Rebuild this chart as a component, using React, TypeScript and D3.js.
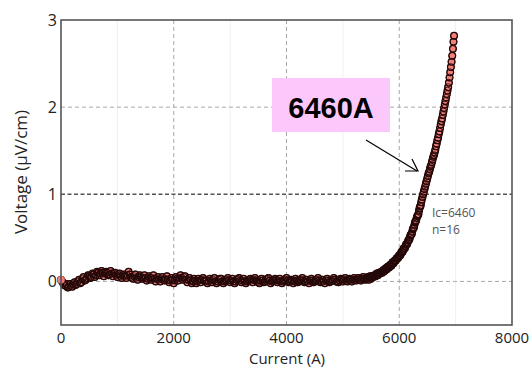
import React from "react";
import * as d3 from "d3";

// Baseline region, first sweep: current (A) and voltage (µV/cm)
const baseCurrent: number[] = [
  0, 40, 80, 120, 160, 200, 240, 280, 320, 360, 400, 440, 480, 520, 560, 600, 640, 680, 720, 760,
  800, 840, 880, 920, 960, 1000, 1040, 1080, 1120, 1160, 1200, 1240, 1280, 1320, 1360, 1400, 1440, 1480, 1520, 1560,
  1600, 1640, 1680, 1720, 1760, 1800, 1840, 1880, 1920, 1960, 2000, 2040, 2080, 2120, 2160, 2200, 2240, 2280, 2320, 2360,
  2400, 2440, 2480, 2520, 2560, 2600, 2640, 2680, 2720, 2760, 2800, 2840, 2880, 2920, 2960, 3000, 3040, 3080, 3120, 3160,
  3200, 3240, 3280, 3320, 3360, 3400, 3440, 3480, 3520, 3560, 3600, 3640, 3680, 3720, 3760, 3800, 3840, 3880, 3920, 3960,
  4000, 4040, 4080, 4120, 4160, 4200, 4240, 4280, 4320, 4360, 4400, 4440, 4480, 4520, 4560, 4600, 4640, 4680, 4720, 4760,
  4800, 4840, 4880, 4920, 4960, 5000, 5040, 5080, 5120, 5160, 5200, 5240, 5280, 5320, 5360, 5400,
];
const baseVoltage: number[] = [
  0.02, -0.02, -0.05, -0.07, -0.03, -0.06, -0.01, -0.03, 0.02, -0.01, 0.05, 0.02, 0.07, 0.04, 0.09, 0.05, 0.11, 0.07, 0.12, 0.06,
  0.11, 0.07, 0.12, 0.06, 0.1, 0.05, 0.09, 0.04, 0.08, 0.04, 0.11, 0.05, 0.03, 0.08, 0.02, 0.07, 0.03, 0.07, 0.01, 0.06,
  0.02, 0.07, 0.0, 0.05, 0.0, 0.05, 0.01, 0.06, -0.01, 0.04, -0.02, 0.05, 0.01, 0.07, 0.02, 0.06, -0.01, 0.04, -0.02, 0.03,
  -0.02, 0.03, -0.01, 0.04, 0.0, -0.02, 0.03, -0.01, 0.04, -0.02, 0.02, 0.03, -0.02, 0.01, 0.04, -0.01, 0.03, -0.02, 0.02, 0.04,
  -0.01, 0.03, -0.02, 0.01, 0.03, -0.01, 0.04, 0.0, -0.02, 0.03, -0.01, 0.02, 0.04, -0.02, 0.01, 0.03, -0.01, 0.03, -0.02, 0.01,
  0.04, -0.01, 0.02, -0.02, 0.03, -0.01, 0.01, 0.04, -0.01, 0.02, -0.02, 0.03, -0.01, 0.01, 0.04, -0.01, 0.02, -0.02, 0.03, -0.01,
  0.01, 0.04, 0.0, -0.01, 0.03, 0.0, 0.04, 0.0, 0.03, 0.0, 0.04, 0.01, 0.04, 0.01, 0.05, 0.02,
];

// Baseline region, intermediate readings
const baseCurrent2: number[] = [
  20, 60, 100, 140, 180, 220, 260, 300, 340, 380, 420, 460, 500, 540, 580, 620, 660, 700, 740, 780,
  820, 860, 900, 940, 980, 1020, 1060, 1100, 1140, 1180, 1220, 1260, 1300, 1340, 1380, 1420, 1460, 1500, 1540, 1580,
  1620, 1660, 1700, 1740, 1780, 1820, 1860, 1900, 1940, 1980, 2020, 2060, 2100, 2140, 2180, 2220, 2260, 2300, 2340, 2380,
  2420, 2460, 2500, 2540, 2580, 2620, 2660, 2700, 2740, 2780, 2820, 2860, 2900, 2940, 2980, 3020, 3060, 3100, 3140, 3180,
  3220, 3260, 3300, 3340, 3380, 3420, 3460, 3500, 3540, 3580, 3620, 3660, 3700, 3740, 3780, 3820, 3860, 3900, 3940, 3980,
  4020, 4060, 4100, 4140, 4180, 4220, 4260, 4300, 4340, 4380, 4420, 4460, 4500, 4540, 4580, 4620, 4660, 4700, 4740, 4780,
  4820, 4860, 4900, 4940, 4980, 5020, 5060, 5100, 5140, 5180, 5220, 5260, 5300, 5340, 5380,
];
const baseVoltage2: number[] = [
  0.0, -0.04, -0.03, -0.06, -0.05, -0.03, -0.04, 0.0, -0.02, 0.03, 0.01, 0.04, 0.06, 0.05, 0.08, 0.07, 0.1, 0.09, 0.1, 0.09,
  0.1, 0.08, 0.09, 0.09, 0.07, 0.08, 0.06, 0.07, 0.06, 0.07, 0.08, 0.04, 0.06, 0.04, 0.05, 0.05, 0.04, 0.04, 0.03, 0.04,
  0.04, 0.03, 0.03, 0.02, 0.03, 0.02, 0.03, 0.02, 0.01, 0.02, 0.01, 0.03, 0.04, 0.04, 0.05, 0.02, 0.02, 0.01, 0.0, 0.01,
  0.0, 0.01, 0.02, 0.01, 0.01, 0.0, 0.01, 0.02, 0.0, 0.0, 0.03, 0.0, 0.0, 0.02, 0.01, 0.01, 0.0, 0.0, 0.03, 0.01,
  0.01, 0.0, 0.0, 0.02, 0.01, 0.02, 0.01, -0.01, 0.01, 0.01, 0.0, 0.03, 0.01, 0.0, 0.02, 0.01, 0.01, 0.0, 0.0, 0.02,
  0.01, 0.0, 0.01, 0.0, 0.01, 0.0, 0.02, 0.01, 0.0, 0.0, 0.01, 0.01, 0.0, 0.02, 0.01, 0.0, 0.0, 0.01, 0.01, 0.0,
  0.02, 0.02, 0.0, 0.01, 0.02, 0.02, 0.01, 0.02, 0.02, 0.02, 0.02, 0.03, 0.02, 0.03, 0.03,
];

// Transition region
const riseCurrent: number[] = [
  5420, 5440, 5460, 5480, 5500, 5520, 5540, 5560, 5580, 5600, 5620, 5640, 5660, 5680, 5700, 5720, 5740, 5760, 5780, 5800,
  5820, 5840, 5860, 5880, 5900, 5920, 5940, 5960, 5980, 6000, 6020, 6040, 6060, 6080, 6100, 6120, 6140, 6160, 6180, 6200,
  6220, 6240, 6260, 6280, 6300, 6320, 6340, 6360, 6380, 6400, 6412, 6424, 6436, 6448, 6460, 6472, 6484, 6496, 6508, 6520,
  6532, 6544, 6556, 6568, 6580, 6592, 6604, 6616, 6628, 6640, 6652, 6664, 6676, 6688, 6700, 6712, 6724, 6736, 6748, 6760,
  6772, 6784, 6796, 6808, 6820, 6832, 6844, 6856, 6868, 6880, 6892, 6904, 6916, 6928, 6940, 6952, 6962, 6972,
];
const riseVoltage: number[] = [
  0.03, 0.05, 0.02, 0.06, 0.03, 0.06, 0.05, 0.07, 0.06, 0.09, 0.07, 0.1, 0.09, 0.11, 0.1, 0.13, 0.12, 0.15, 0.14, 0.17,
  0.16, 0.19, 0.18, 0.22, 0.21, 0.24, 0.24, 0.27, 0.27, 0.3, 0.3, 0.34, 0.34, 0.38, 0.38, 0.42, 0.43, 0.47, 0.48, 0.53,
  0.54, 0.6, 0.62, 0.68, 0.7, 0.75, 0.77, 0.84, 0.87, 0.94, 0.97, 1.0, 1.03, 1.06, 1.09, 1.12, 1.15, 1.18, 1.21, 1.24,
  1.26, 1.29, 1.32, 1.34, 1.37, 1.4, 1.43, 1.45, 1.48, 1.51, 1.55, 1.58, 1.62, 1.65, 1.69, 1.72, 1.76, 1.8, 1.84, 1.87,
  1.91, 1.95, 1.99, 2.03, 2.07, 2.11, 2.15, 2.19, 2.23, 2.28, 2.34, 2.4, 2.46, 2.52, 2.59, 2.67, 2.75, 2.82,
];

// Transition region, intermediate readings
const riseCurrent2: number[] = [
  5430, 5450, 5470, 5490, 5510, 5530, 5550, 5570, 5590, 5610, 5630, 5650, 5670, 5690, 5710, 5730, 5750, 5770, 5790, 5810,
  5830, 5850, 5870, 5890, 5910, 5930, 5950, 5970, 5990, 6010, 6030, 6050, 6070, 6090, 6110, 6130, 6150, 6170, 6190, 6210,
  6230, 6250, 6270, 6290, 6310, 6330, 6350, 6370, 6390,
];
const riseVoltage2: number[] = [
  0.04, 0.04, 0.05, 0.04, 0.05, 0.06, 0.06, 0.07, 0.07, 0.08, 0.09, 0.09, 0.1, 0.11, 0.12, 0.12, 0.14, 0.14, 0.16, 0.16,
  0.18, 0.18, 0.2, 0.21, 0.23, 0.24, 0.26, 0.27, 0.29, 0.3, 0.32, 0.34, 0.36, 0.38, 0.4, 0.43, 0.45, 0.48, 0.51, 0.54,
  0.57, 0.61, 0.65, 0.69, 0.73, 0.76, 0.81, 0.86, 0.91,
];

const xTicks: number[] = [0, 2000, 4000, 6000, 8000];
const yTicks: number[] = [0, 1, 2, 3];
const xMinor: number[] = [1000, 3000, 5000, 7000];

const W = 530;
const H = 367;
const M = { left: 61, right: 512, top: 20, bottom: 325 };

export default function App() {
  const x = d3.scaleLinear().domain([0, 8000]).range([M.left, M.right]);
  const y = d3.scaleLinear().domain([-0.5, 3]).range([M.bottom, M.top]);

  const pts: [number, number][] = [];
  baseCurrent.forEach((c, i) => pts.push([c, baseVoltage[i]]));
  baseCurrent2.forEach((c, i) => pts.push([c, baseVoltage2[i]]));
  riseCurrent.forEach((c, i) => pts.push([c, riseVoltage[i]]));
  riseCurrent2.forEach((c, i) => pts.push([c, riseVoltage2[i]]));
  pts.sort((a, b) => a[0] - b[0]);

  const font = "'Open Sans', 'DejaVu Sans', sans-serif";

  return (
    <svg
      width={W}
      height={H}
      style={{ position: "absolute", left: 0, top: 0, background: "#fff" }}
    >
      <rect x={M.left} y={M.top} width={M.right - M.left} height={M.bottom - M.top} fill="#fff" />
      {xMinor.map((t) => (
        <line key={"xm" + t} x1={x(t)} x2={x(t)} y1={M.top} y2={M.bottom} stroke="#f0f0f0" strokeWidth={1} />
      ))}
      {xTicks.slice(1, -1).map((t) => (
        <line
          key={"xg" + t}
          x1={x(t)}
          x2={x(t)}
          y1={M.top}
          y2={M.bottom}
          stroke="#a8a8a8"
          strokeWidth={1}
          strokeDasharray="4,3"
        />
      ))}
      {[0, 2].map((t) => (
        <line
          key={"yg" + t}
          x1={M.left}
          x2={M.right}
          y1={y(t)}
          y2={y(t)}
          stroke="#a8a8a8"
          strokeWidth={1}
          strokeDasharray="4,3"
        />
      ))}
      <line
        x1={M.left}
        x2={M.right}
        y1={y(1)}
        y2={y(1)}
        stroke="#555"
        strokeWidth={1.5}
        strokeDasharray="4,2.5"
      />

      <g>
        {pts.map(([c, v], i) => (
          <circle
            key={"p" + i}
            cx={x(c)}
            cy={y(v)}
            r={3.4}
            fill="#f27f7a"
            stroke="#280a0a"
            strokeWidth={1.2}
          />
        ))}
      </g>
      <g>
        {pts.map(([c, v], i) => (
          <circle
            key={"o" + i}
            cx={x(c)}
            cy={y(v)}
            r={3.4}
            fill="none"
            stroke="#240808"
            strokeWidth={1}
            strokeOpacity={0.85}
          />
        ))}
      </g>
      <circle cx={x(baseCurrent[0])} cy={y(baseVoltage[0])} r={3.6} fill="#f0807a" stroke="#d86a66" strokeWidth={0.8} />

      <rect
        x={M.left}
        y={M.top}
        width={M.right - M.left}
        height={M.bottom - M.top}
        fill="none"
        stroke="#555"
        strokeWidth={1.6}
      />

      {xTicks.map((t) => (
        <text
          key={"xt" + t}
          x={x(t)}
          y={343}
          textAnchor="middle"
          fontFamily={font}
          fontSize={15}
          fill="#222"
        >
          {t}
        </text>
      ))}
      {yTicks.map((t) => (
        <text
          key={"yt" + t}
          x={57}
          y={y(t)}
          dy="0.36em"
          textAnchor="end"
          fontFamily={font}
          fontSize={16}
          fill="#222"
        >
          {t}
        </text>
      ))}
      <text x={287} y={364} textAnchor="middle" fontFamily={font} fontSize={15} fill="#222">
        Current (A)
      </text>
      <text
        transform={`translate(27,${172}) rotate(-90)`}
        textAnchor="middle"
        fontFamily={font}
        fontSize={17}
        fill="#222"
      >
        Voltage (μV/cm)
      </text>

      <text x={432} y={217} fontFamily={font} fontSize={12} fill="#555">
        Ic=6460
      </text>
      <text x={432} y={234} fontFamily={font} fontSize={12} fill="#555">
        n=16
      </text>

      <rect x={272} y={78} width={118} height={54} fill="#fcc8fc" />
      <text
        x={331}
        y={118}
        textAnchor="middle"
        fontFamily="'Liberation Sans', Arial, sans-serif"
        fontWeight="bold"
        fontSize={29}
        fill="#000"
      >
        6460A
      </text>
      <line x1={366} y1={140} x2={417} y2={171} stroke="#000" strokeWidth={1.2} />
      <polyline points="405,171 418,171 412,159" fill="none" stroke="#000" strokeWidth={1.2} />
    </svg>
  );
}
